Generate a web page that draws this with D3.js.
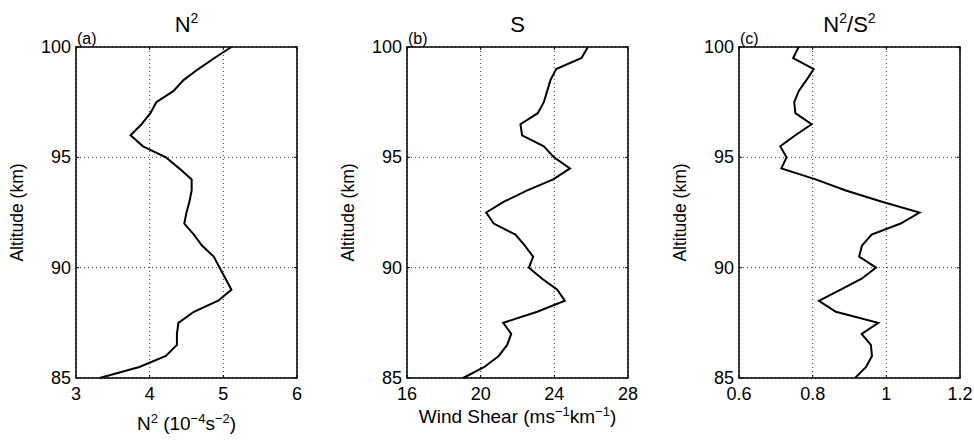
<!DOCTYPE html>
<html lang="en">
<head>
  <meta charset="UTF-8">
  <title>N2, S and N2/S2 profiles</title>
  <script src="https://d3js.org/d3.v7.min.js"></script>
  <style>
    body { margin: 0; background: #fff; }
    text { font-family: "Liberation Sans", Arial, Helvetica, sans-serif; fill: #000; }
    .grid line { stroke: #000; stroke-width: 0.8px; stroke-dasharray: 1,3; }
  </style>
</head>
<body>
  <svg id="chart" width="974" height="440"></svg>

  <script>
    // altitude levels, top to bottom (km)
    const altitude = [100, 99.5, 99, 98.5, 98, 97.5, 97, 96.5, 96, 95.5, 95, 94.5, 94, 93.5, 93, 92.5,
                      92, 91.5, 91, 90.5, 90, 89.5, 89, 88.5, 88, 87.5, 87, 86.5, 86, 85.5, 85];
    // (a) N^2 in 1e-4 s^-2
    const n2 = [5.11, 4.88, 4.66, 4.46, 4.32, 4.09, 4.01, 3.89, 3.74, 3.91, 4.22, 4.40, 4.57, 4.57, 4.54, 4.50,
                4.47, 4.60, 4.71, 4.87, 4.95, 5.03, 5.11, 4.93, 4.60, 4.39, 4.37, 4.37, 4.22, 3.86, 3.32];
    // (b) wind shear in m/s/km
    const shear = [25.82, 25.48, 24.1, 23.79, 23.61, 23.43, 23.1, 22.16, 22.25, 23.43, 23.98, 24.85, 23.94, 22.53, 21.29, 20.3,
                   20.71, 21.89, 22.4, 22.85, 22.62, 23.34, 24.16, 24.57, 23.07, 21.22, 21.66, 21.44, 20.98, 20.2, 19.05];
    // (c) N^2/S^2
    const ratio = [0.762, 0.747, 0.803, 0.783, 0.762, 0.750, 0.753, 0.797, 0.753, 0.712, 0.729, 0.715, 0.808, 0.89, 0.986, 1.09,
                   1.039, 0.960, 0.934, 0.926, 0.972, 0.933, 0.876, 0.817, 0.863, 0.978, 0.933, 0.958, 0.961, 0.945, 0.915];

    const altTicks = [85, 90, 95, 100];
    const n2Ticks = [3, 4, 5, 6];
    const shearTicks = [16, 20, 24, 28];
    const ratioTicks = [0.6, 0.8, 1, 1.2];

    const svg = d3.select("#chart");
    const plotTop = 47, plotH = 331, plotW = 221;

    const panels = [
      { left: 76, values: n2, ticks: n2Ticks, letter: "(a)",
        title: [["N", 0], ["2", 1]],
        xlabel: [["N", 0], ["2", 1], [" (10", 0], ["\u22124", 1], ["s", 0], ["\u22122", 1], [")", 0]], xlabelY: 430 },
      { left: 407, values: shear, ticks: shearTicks, letter: "(b)",
        title: [["S", 0]],
        xlabel: [["Wind Shear (ms", 0], ["\u22121", 1], ["km", 0], ["\u22121", 1], [")", 0]], xlabelY: 423 },
      { left: 739, values: ratio, ticks: ratioTicks, letter: "(c)",
        title: [["N", 0], ["2", 1], ["/S", 0], ["2", 1]],
        xlabel: null }
    ];

    // text with superscript pieces: [string, isSup]
    function richText(sel, parts, size, supSize, rise) {
      let prev = 0;
      parts.forEach(([s, sup]) => {
        const cur = sup ? -rise : 0;
        sel.append("tspan")
          .attr("dy", cur - prev)
          .attr("font-size", sup ? supSize : size)
          .text(s);
        prev = cur;
      });
    }

    panels.forEach(p => {
      const x = d3.scaleLinear().domain([p.ticks[0], p.ticks[p.ticks.length - 1]]).range([p.left, p.left + plotW]);
      const y = d3.scaleLinear().domain([85, 100]).range([plotTop + plotH, plotTop]);
      const g = svg.append("g");

      // dotted grid
      const grid = g.append("g").attr("class", "grid");
      grid.selectAll(".gx").data(p.ticks).enter().append("line")
        .attr("x1", d => x(d)).attr("x2", d => x(d))
        .attr("y1", plotTop).attr("y2", plotTop + plotH);
      grid.selectAll(".gy").data(altTicks).enter().append("line")
        .attr("x1", p.left).attr("x2", p.left + plotW)
        .attr("y1", d => y(d)).attr("y2", d => y(d));

      // inward ticks on all four sides
      const tl = 3;
      const tk = g.append("g").attr("stroke", "#000").attr("stroke-width", 1);
      p.ticks.forEach(d => {
        tk.append("line").attr("x1", x(d)).attr("x2", x(d)).attr("y1", plotTop + plotH).attr("y2", plotTop + plotH - tl);
        tk.append("line").attr("x1", x(d)).attr("x2", x(d)).attr("y1", plotTop).attr("y2", plotTop + tl);
      });
      altTicks.forEach(d => {
        tk.append("line").attr("x1", p.left).attr("x2", p.left + tl).attr("y1", y(d)).attr("y2", y(d));
        tk.append("line").attr("x1", p.left + plotW).attr("x2", p.left + plotW - tl).attr("y1", y(d)).attr("y2", y(d));
      });

      // profile line
      const line = d3.line().x(d => x(d[0])).y(d => y(d[1]));
      g.append("path")
        .datum(p.values.map((v, i) => [v, altitude[i]]))
        .attr("d", line)
        .attr("fill", "none")
        .attr("stroke", "#000")
        .attr("stroke-width", 2)
        .attr("stroke-linejoin", "miter");

      // box
      g.append("rect")
        .attr("x", p.left).attr("y", plotTop)
        .attr("width", plotW).attr("height", plotH)
        .attr("fill", "none").attr("stroke", "#000").attr("stroke-width", 1.5);

      // tick labels
      g.selectAll(".xt").data(p.ticks).enter().append("text")
        .attr("x", d => x(d)).attr("y", 400)
        .attr("text-anchor", "middle").attr("font-size", 18)
        .text(d => d3.format("~g")(d));
      g.selectAll(".yt").data(altTicks).enter().append("text")
        .attr("x", p.left - 5).attr("y", d => y(d) + 6)
        .attr("text-anchor", "end").attr("font-size", 18)
        .text(d => d);

      // y label
      g.append("text")
        .attr("transform", `translate(${p.left - 53},${plotTop + plotH / 2}) rotate(-90)`)
        .attr("text-anchor", "middle").attr("font-size", 17.5)
        .text("Altitude (km)");

      // panel letter
      g.append("text").attr("x", p.left + 1).attr("y", 44)
        .attr("font-size", 16).text(p.letter);

      // title
      const t = g.append("text").attr("x", p.left + plotW / 2).attr("y", 32)
        .attr("text-anchor", "middle");
      richText(t, p.title, 22, 14, 9);

      // x label
      if (p.xlabel) {
        const xl = g.append("text").attr("x", p.left + plotW / 2).attr("y", p.xlabelY)
          .attr("text-anchor", "middle");
        richText(xl, p.xlabel, 19, 13, 7);
      }
    });
  </script>
</body>
</html>
